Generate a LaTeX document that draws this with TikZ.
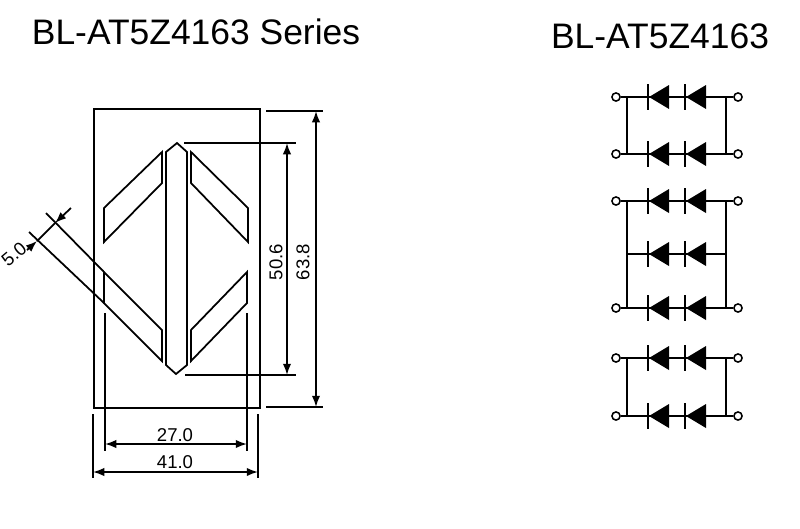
\documentclass[tikz,border=0pt]{standalone}
\usepackage{fontspec}
\setmainfont{Liberation Sans}
\usetikzlibrary{arrows.meta}

\tikzset{
  part/.style={line width=1.25pt},
  dimline/.style={line width=1.25pt, {Latex[length=8pt,width=6pt]}-{Latex[length=8pt,width=6pt]}},
  dimtip/.style={line width=1.25pt, -{Latex[length=8pt,width=6pt]}},
  dimtext/.style={font=\fontsize{13.2}{15}\selectfont, inner sep=0pt},
  titletext/.style={font=\fontsize{25.2}{28}\selectfont, inner sep=0pt, anchor=base},
  terminal/.style={circle, draw, fill=white, line width=1.1pt, minimum size=5.8pt, inner sep=0pt}
}

\newcommand{\diode}[2]{
  \draw[line width=1.25pt] (#1, #2 - 13) -- (#1, #2 + 13);
  \fill (#1 + 1, #2) -- (#1 + 21, #2 - 12) -- (#1 + 21, #2 + 12) -- cycle;
}

\begin{document}
\begin{tikzpicture}[x=0.025cm, y=-0.025cm]
\useasboundingbox (0, 0) rectangle (800, 528);

\node[titletext] (titleleft) at (196, 44){BL-AT5Z4163 Series};
\node[titletext] (titleright) at (660, 48){BL-AT5Z4163};

% package
\draw[part] (94, 109) rectangle (260, 408);
\draw[part] (166, 365) -- (166, 152) -- (177, 143) -- (187, 152) -- (187, 365) -- (176, 374) -- cycle;
\draw[part] (162, 152) -- (162, 183) -- (104, 242) -- (104, 208) -- cycle;
\draw[part] (191, 152) -- (191, 183) -- (248, 242) -- (248, 208) -- cycle;
\draw[part] (104, 272) -- (104, 303) -- (162, 361) -- (162, 330) -- cycle;
\draw[part] (247, 272) -- (247, 303) -- (191, 361) -- (191, 330) -- cycle;

% dimensions, right side
\draw[part] (266, 111) -- (323, 111);
\draw[part] (266, 407) -- (323, 407);
\draw[dimline] (316, 111) -- (316, 407);
\draw[part] (184, 143) -- (296, 143);
\draw[part] (185, 375) -- (296, 375);
\draw[dimline] (287, 143) -- (287, 375);
\node[dimtext, rotate=90] (heightinner) at (276, 262){50.6};
\node[dimtext, rotate=90] (heightouter) at (303, 262){63.8};

% dimensions, bottom
\draw[part] (105, 313) -- (105, 451);
\draw[part] (247, 313) -- (247, 451);
\draw[dimline] (105, 444) -- (247, 444);
\draw[part] (93, 414) -- (93, 478);
\draw[part] (258, 414) -- (258, 478);
\draw[dimline] (93, 472) -- (258, 472);
\node[dimtext] (widthinner) at (175, 435){27.0};
\node[dimtext] (widthouter) at (175, 462){41.0};

% dimension of the slanted segment
\draw[part] (46, 213) -- (104, 272);
\draw[part] (29, 232) -- (104, 303);
\draw[dimtip] (71, 208) -- (55, 223);
\draw[part] (55, 223) -- (37, 241);
\draw[dimtip] (27, 250) -- (37, 241);
\node[dimtext, rotate=40] (segwidth) at (14, 254){5.0};

% circuit
\foreach \rowid/\rowy in {1/97, 2/154, 3/201, 5/308, 6/358, 7/416}{
  \node[terminal] (left\rowid) at (616, \rowy){};
  \node[terminal] (right\rowid) at (738, \rowy){};
}
\coordinate (left4) at (627, 254);
\coordinate (right4) at (726, 254);
\coordinate (railleft) at (627, 0);
\coordinate (railright) at (726, 0);

\foreach \rowid/\rowy in {1/97, 2/154, 3/201, 4/254, 5/308, 6/358, 7/416}{
  \draw[part] (left\rowid) -- (right\rowid);
  \diode{648}{\rowy}
  \diode{685}{\rowy}
}

\draw[part] (railleft |- left1) -- (railleft |- left2);
\draw[part] (railright |- right1) -- (railright |- right2);
\draw[part] (railleft |- left3) -- (railleft |- left5);
\draw[part] (railright |- right3) -- (railright |- right5);
\draw[part] (railleft |- left6) -- (railleft |- left7);
\draw[part] (railright |- right6) -- (railright |- right7);
\end{tikzpicture}
\end{document}
